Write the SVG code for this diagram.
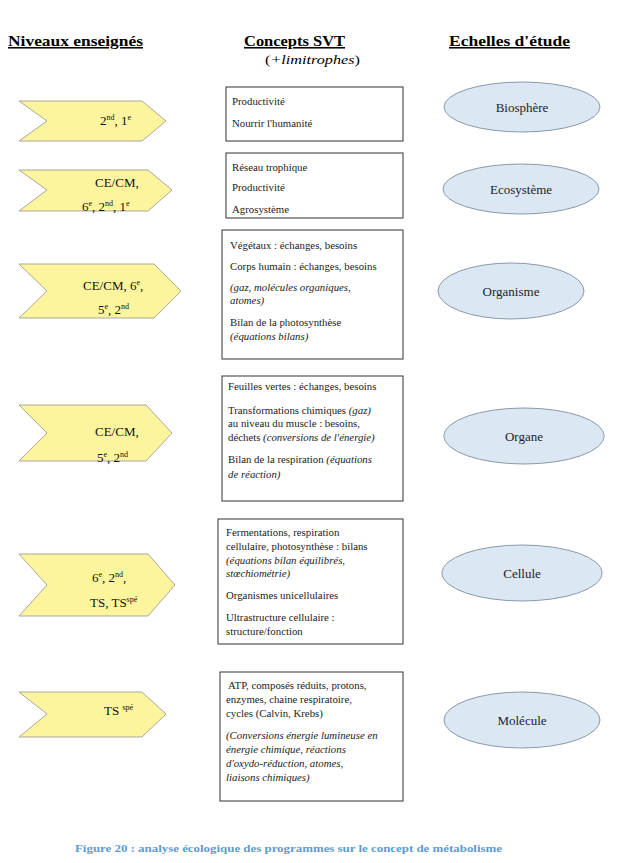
<svg xmlns="http://www.w3.org/2000/svg" width="618" height="863" viewBox="0 0 618 863">
<style>
.hdr{font-family:"Liberation Serif",serif;font-weight:bold;font-size:15.5px;fill:#000;text-decoration:underline}
.sub{font-family:"Liberation Serif",serif;font-size:13px;fill:#000}
.chev{fill:#fdf59e;stroke:#a9a99a;stroke-width:1}
.ct{font-family:"Liberation Serif",serif;font-size:13px;fill:#111}
.box{fill:#fff;stroke:#333;stroke-width:1}
.bt{font-family:"Liberation Serif",serif;font-size:10.8px;fill:#222}
.it{font-style:italic}
.ell{fill:#dbe8f4;stroke:#8a98a8;stroke-width:1}
.et{font-family:"Liberation Serif",serif;font-size:13px;fill:#222;text-anchor:middle}
.cap{font-family:"Liberation Serif",serif;font-weight:bold;font-size:11px;fill:#5b9bd5}
</style>
<rect width="618" height="863" fill="#fff"/>
<g id="headers">
<text class="hdr" x="8" y="46" textLength="135" lengthAdjust="spacingAndGlyphs">Niveaux enseignés</text>
<text class="hdr" x="244" y="46" textLength="101" lengthAdjust="spacingAndGlyphs">Concepts SVT</text>
<text class="sub" x="265" y="64" textLength="95" lengthAdjust="spacingAndGlyphs">(<tspan class="it">+limitrophes</tspan>)</text>
<text class="hdr" x="449" y="46" textLength="121" lengthAdjust="spacingAndGlyphs">Echelles d'étude</text>
</g>
<g id="niveau1">
<polygon class="chev" points="19,101 142,101 166,121 142,141 19,141 47,121"/>
<text class="ct" x="100" y="125">2<tspan font-size="8" dy="-5">nd</tspan><tspan dy="5">, 1</tspan><tspan font-size="8" dy="-5">e</tspan></text>
</g>
<g id="niveau2">
<polygon class="chev" points="19,170 148,170 172,190 148,211 19,211 47,190"/>
<text class="ct" x="95" y="187">CE/CM,</text>
<text class="ct" x="82" y="211">6<tspan font-size="8" dy="-5">e</tspan><tspan dy="5">,  2</tspan><tspan font-size="8" dy="-5">nd</tspan><tspan dy="5">, 1</tspan><tspan font-size="8" dy="-5">e</tspan></text>
</g>
<g id="niveau3">
<polygon class="chev" points="19,264 154,264 181,291 154,318 19,318 47,291"/>
<text class="ct" x="83" y="290">CE/CM, 6<tspan font-size="8" dy="-5">e</tspan><tspan dy="5">,</tspan></text>
<text class="ct" x="98" y="314">5<tspan font-size="8" dy="-5">e</tspan><tspan dy="5">, 2</tspan><tspan font-size="8" dy="-5">nd</tspan></text>
</g>
<g id="niveau4">
<polygon class="chev" points="19,405 146,405 172,433 146,461 19,461 47,433"/>
<text class="ct" x="95" y="436">CE/CM,</text>
<text class="ct" x="97" y="462">5<tspan font-size="8" dy="-5">e</tspan><tspan dy="5">, 2</tspan><tspan font-size="8" dy="-5">nd</tspan></text>
</g>
<g id="niveau5">
<polygon class="chev" points="19,554 148,554 175,585 148,616 19,616 47,585"/>
<text class="ct" x="92" y="582">6<tspan font-size="8" dy="-5">e</tspan><tspan dy="5">, 2</tspan><tspan font-size="8" dy="-5">nd</tspan><tspan dy="5">,</tspan></text>
<text class="ct" x="90" y="607">TS, TS<tspan font-size="8" dy="-5">spé</tspan></text>
</g>
<g id="niveau6">
<polygon class="chev" points="19,692 142,692 166,714 142,737 19,737 47,714"/>
<text class="ct" x="104" y="715">TS <tspan font-size="8" dy="-5">spé</tspan></text>
</g>
<g id="concept1">
<rect class="box" x="226" y="87" width="177" height="54"/>
<text class="bt" x="232" y="105">Productivité</text>
<text class="bt" x="232" y="127">Nourrir l'humanité</text>
</g>
<g id="concept2">
<rect class="box" x="226" y="153" width="177" height="65"/>
<text class="bt" x="232" y="171">Réseau trophique</text>
<text class="bt" x="232" y="191">Productivité</text>
<text class="bt" x="232" y="213">Agrosystème</text>
</g>
<g id="concept3">
<rect class="box" x="222" y="230" width="181" height="129"/>
<text class="bt" x="230" y="249">Végétaux : échanges, besoins</text>
<text class="bt" x="230" y="270">Corps humain : échanges, besoins</text>
<text class="bt it" x="230" y="291">(gaz, molécules organiques,</text>
<text class="bt it" x="230" y="304">atomes)</text>
<text class="bt" x="230" y="326">Bilan de la photosynthèse</text>
<text class="bt it" x="230" y="340">(équations bilans)</text>
</g>
<g id="concept4">
<rect class="box" x="222" y="376" width="181" height="125"/>
<text class="bt" x="228" y="390">Feuilles vertes : échanges, besoins</text>
<text class="bt" x="228" y="414">Transformations chimiques <tspan class="it">(gaz)</tspan></text>
<text class="bt" x="228" y="427">au niveau du muscle : besoins,</text>
<text class="bt" x="228" y="441">déchets <tspan class="it">(conversions de l'énergie)</tspan></text>
<text class="bt" x="228" y="463">Bilan de la respiration <tspan class="it">(équations</tspan></text>
<text class="bt it" x="228" y="478">de réaction)</text>
</g>
<g id="concept5">
<rect class="box" x="218" y="519" width="185" height="125"/>
<text class="bt" x="226" y="536">Fermentations, respiration</text>
<text class="bt" x="226" y="550">cellulaire, photosynthèse : bilans</text>
<text class="bt it" x="226" y="564">(équations bilan équilibrés,</text>
<text class="bt it" x="226" y="577">stœchiométrie)</text>
<text class="bt" x="226" y="599">Organismes unicellulaires</text>
<text class="bt" x="226" y="621">Ultrastructure cellulaire :</text>
<text class="bt" x="226" y="635">structure/fonction</text>
</g>
<g id="concept6">
<rect class="box" x="220" y="672" width="183" height="129"/>
<text class="bt" x="228" y="689">ATP, composés réduits, protons,</text>
<text class="bt" x="226" y="703">enzymes, chaine respiratoire,</text>
<text class="bt" x="226" y="717">cycles (Calvin, Krebs)</text>
<text class="bt it" x="226" y="739">(Conversions énergie lumineuse en</text>
<text class="bt it" x="226" y="753">énergie chimique, réactions</text>
<text class="bt it" x="226" y="767">d'oxydo-réduction, atomes,</text>
<text class="bt it" x="226" y="781">liaisons chimiques)</text>
</g>
<g id="echelle1">
<ellipse class="ell" cx="522" cy="107" rx="78" ry="25"/>
<text class="et" x="522" y="112">Biosphère</text>
</g>
<g id="echelle2">
<ellipse class="ell" cx="521" cy="189" rx="78" ry="25"/>
<text class="et" x="521" y="194">Ecosystème</text>
</g>
<g id="echelle3">
<ellipse class="ell" cx="511" cy="291" rx="73" ry="28"/>
<text class="et" x="511" y="296">Organisme</text>
</g>
<g id="echelle4">
<ellipse class="ell" cx="524" cy="436" rx="80" ry="28"/>
<text class="et" x="524" y="441">Organe</text>
</g>
<g id="echelle5">
<ellipse class="ell" cx="522" cy="573" rx="80" ry="28"/>
<text class="et" x="522" y="578">Cellule</text>
</g>
<g id="echelle6">
<ellipse class="ell" cx="522" cy="720" rx="78" ry="28"/>
<text class="et" x="522" y="725">Molécule</text>
</g>
<g id="connectors"/>
<g id="caption">
<text class="cap" x="75" y="852" textLength="427" lengthAdjust="spacingAndGlyphs">Figure 20 : analyse écologique des programmes sur le concept de métabolisme</text>
</g>
</svg>
